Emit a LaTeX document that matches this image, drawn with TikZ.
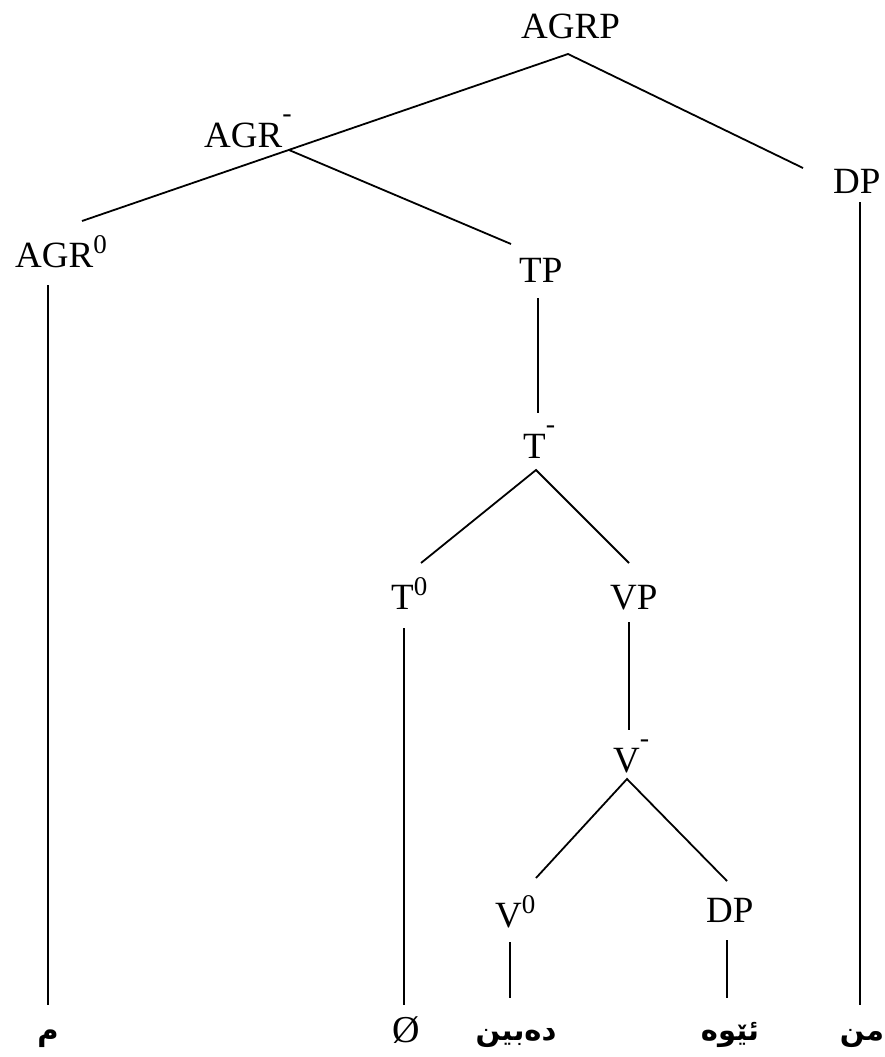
\documentclass[tikz,border=0pt]{standalone}
\usepackage{fontspec}
\setmainfont{Liberation Serif}
\newfontfamily\arabicfont[Script=Arabic]{DejaVu Sans}
\TeXXeTstate=1
\newcommand{\supzero}{\raisebox{14pt}{\fontsize{27}{27}\selectfont 0}}
\newcommand{\supbar}{\raisebox{25pt}{\fontsize{28}{28}\selectfont -}}
\begin{document}
\begin{tikzpicture}[x=1pt,y=-1pt,
  lab/.style={inner sep=0pt,anchor=base west,font=\fontsize{37}{40}\selectfont},
  leaf/.style={inner sep=0pt,anchor=base,font=\fontsize{29}{32}\selectfont\arabicfont\bfseries},
  edge/.style={line width=1.8pt}]
\useasboundingbox (0,0) rectangle (885,1057);
% labels
\node[lab] (AGRP) at (521,38) {AGRP};
\node[lab] (AGRbar) at (204,147) {AGR\supbar};
\node[lab] (DPr) at (833,193) {DP};
\node[lab] (AGR0) at (15,267) {AGR\supzero};
\node[lab] (TP) at (519,282) {TP};
\node[lab] (Tbar) at (523,458) {T\supbar};
\node[lab] (T0) at (391,609) {T\supzero};
\node[lab] (VP) at (610,609) {VP};
\node[lab] (Vbar) at (613,772) {V\supbar};
\node[lab] (V0) at (495,927) {V\supzero};
\node[lab] (DPv) at (706,922) {DP};
% leaves
\node[leaf] (m) at (48,1040) {\beginR م\endR};
\node[inner sep=0pt,anchor=base,font=\fontsize{38}{40}\selectfont] (null) at (406,1042) {Ø};
\node[leaf] (dabin) at (516,1040) {\beginR دەبین\endR};
\node[leaf] (ewa) at (730,1040) {\beginR ئێوە\endR};
\node[leaf] (min) at (862,1040) {\beginR من\endR};
% connector end points
\coordinate (AGRPb) at (568,54);
\coordinate (AGR0t) at (82,221);
\coordinate (AGRbarb) at (289,150);
\coordinate (TPt) at (511,244);
\coordinate (DPrt) at (803,168);
\coordinate (DPrb) at (860,202);
\coordinate (mt) at (860,1005);
\coordinate (AGR0b) at (48,285);
\coordinate (m1t) at (48,1005);
\coordinate (TPb) at (538,298);
\coordinate (Tbart) at (538,413);
\coordinate (Tbarb) at (536,470);
\coordinate (T0t) at (421,563);
\coordinate (VPt) at (629,563);
\coordinate (T0b) at (404,628);
\coordinate (nullt) at (404,1005);
\coordinate (VPb) at (629,622);
\coordinate (Vbart) at (629,730);
\coordinate (Vbarb) at (627,779);
\coordinate (V0t) at (536,878);
\coordinate (DPvt) at (727,881);
\coordinate (V0b) at (510,942);
\coordinate (dabint) at (510,998);
\coordinate (DPvb) at (727,940);
\coordinate (ewat) at (727,998);
% connectors
\draw[edge] (AGR0t) -- (AGRPb) -- (DPrt);
\draw[edge] (AGRbarb) -- (TPt);
\draw[edge] (DPrb) -- (mt);
\draw[edge] (AGR0b) -- (m1t);
\draw[edge] (TPb) -- (Tbart);
\draw[edge] (T0t) -- (Tbarb) -- (VPt);
\draw[edge] (T0b) -- (nullt);
\draw[edge] (VPb) -- (Vbart);
\draw[edge] (V0t) -- (Vbarb) -- (DPvt);
\draw[edge] (V0b) -- (dabint);
\draw[edge] (DPvb) -- (ewat);
\end{tikzpicture}
\end{document}
